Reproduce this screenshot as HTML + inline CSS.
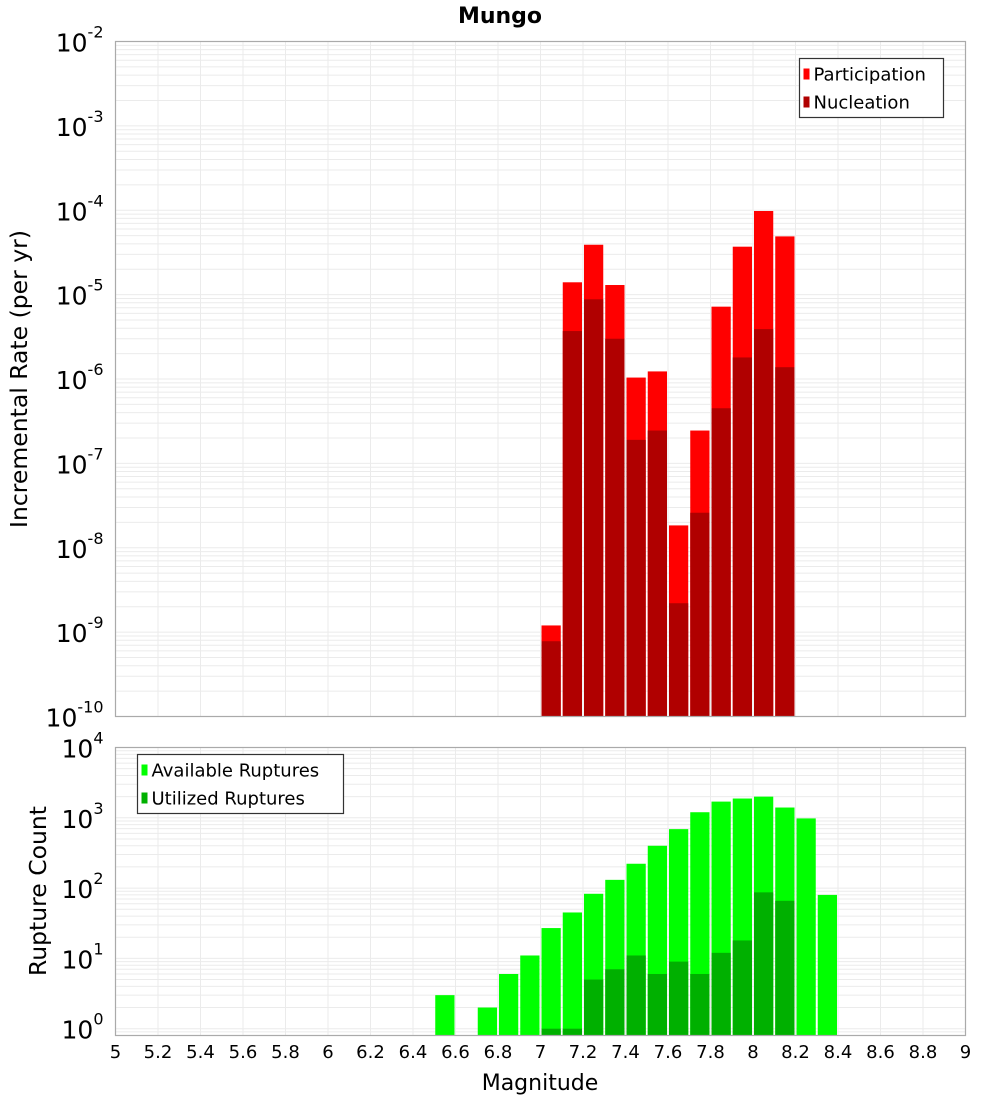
<!DOCTYPE html>
<html><head><meta charset="utf-8"><style>
body{margin:0;background:#fff}
svg{display:block;font-family:"DejaVu Sans","Liberation Sans",sans-serif}
</style></head><body>
<svg id="c" width="1000" height="1100"></svg>
<script>
const binsTop=[7.05,7.15,7.25,7.35,7.45,7.55,7.65,7.75,7.85,7.95,8.05,8.15];
const participation=[1.2e-9,1.4e-5,3.9e-5,1.3e-5,1.04e-6,1.23e-6,1.84e-8,2.45e-7,7.2e-6,3.7e-5,9.8e-5,4.9e-5];
const nucleation=[7.8e-10,3.7e-6,8.8e-6,3.0e-6,1.9e-7,2.45e-7,2.2e-9,2.6e-8,4.5e-7,1.8e-6,3.9e-6,1.38e-6];
const binsBot=[6.55,6.75,6.85,6.95,7.05,7.15,7.25,7.35,7.45,7.55,7.65,7.75,7.85,7.95,8.05,8.15,8.25,8.35];
const available=[3,2,6,11,27,45,83,131,222,400,690,1200,1700,1880,2000,1400,980,80];
const utilized=[0,0,0,0,1,1,5,7,11,6,9,6,12,18,87,66,0,0];
const xTicks=[5,5.2,5.4,5.6,5.8,6,6.2,6.4,6.6,6.8,7,7.2,7.4,7.6,7.8,8,8.2,8.4,8.6,8.8,9];
const topExps=[-2,-3,-4,-5,-6,-7,-8,-9,-10];
const botExps=[4,3,2,1,0];

const NS='http://www.w3.org/2000/svg';
const svg=document.getElementById('c');
function el(t,a,p){const e=document.createElementNS(NS,t);for(const k in a)e.setAttribute(k,a[k]);(p||svg).appendChild(e);return e;}
const L=115.5,R=965.5;
const x=v=>L+(v-5)/4*(R-L);
const T1=41.5,B1=716.5,T2=747.5,B2=1035.5;
const y1=v=>T1+(-2-Math.log10(v))/8*(B1-T1);
const lmin=Math.log10(0.8);
const y2=v=>T2+(4-Math.log10(v))/(4-lmin)*(B2-T2);

function grid(top,bot,yf,dMin,dMax,name){
  const g=el('g',{});
  
  
  for(let d=dMin;d<dMax;d++)for(let m=1;m<10;m++){const v=m*Math.pow(10,d);const yy=yf(v);if(yy<top||yy>bot)continue;el('line',{x1:L,x2:R,y1:yy,y2:yy,stroke:'#ebebeb','stroke-width':1},g);}
  xTicks.forEach(t=>{el('line',{x1:x(t),x2:x(t),y1:top,y2:bot,stroke:'#ebebeb','stroke-width':1},g);});
}
grid(T1,B1,y1,-10,-1,'top-grid');
grid(T2,B2,y2,-1,4,'bottom-grid');

const bw=x(5.1)-x(5)-2;
function bars(bins,vals,yf,bot,color,name){
  bins.forEach((b,i)=>{if(!vals[i])return;const yy=yf(vals[i]);
    const r=el('rect',{x:x(b)-bw/2,y:yy,width:bw,height:bot-yy,fill:color});
    
    });
}
bars(binsTop,participation,y1,B1,'#ff0000','participation-bar');
bars(binsTop,nucleation,y1,B1,'#b00000','nucleation-bar');
bars(binsBot,available,y2,B2,'#00ff00','available-bar');
bars(binsBot,utilized,y2,B2,'#00b000','utilized-bar');

el('rect',{x:L,y:T1,width:R-L,height:B1-T1,fill:'none',stroke:'#aaa','stroke-width':1.2});
el('rect',{x:L,y:T2,width:R-L,height:B2-T2,fill:'none',stroke:'#aaa','stroke-width':1.2});

function ylab(exps,yf,name){
  exps.forEach(e=>{const yy=yf(Math.pow(10,e));
    const t=el('text',{x:L-12,y:yy+10,'text-anchor':'end','font-size':25});
    
    
    const a=el('tspan',{},t);a.textContent='10';
    const b=el('tspan',{dy:-14,'font-size':16},t);b.textContent=String(e);
  });
}
ylab(topExps,y1,'top-y-tick');
ylab(botExps,y2,'bottom-y-tick');
xTicks.forEach(tk=>{const t=el('text',{x:x(tk),y:1058,'text-anchor':'middle','font-size':18});t.textContent=String(tk);
  
  });

let t=el('text',{x:500,y:23,'text-anchor':'middle','font-size':22,'font-weight':'bold'});t.textContent='Mungo';

t=el('text',{x:540,y:1090,'text-anchor':'middle','font-size':22});t.textContent='Magnitude';

t=el('text',{x:0,y:0,'text-anchor':'middle','font-size':23.5,transform:'translate(27,379) rotate(-90)'});t.textContent='Incremental Rate (per yr)';

t=el('text',{x:0,y:0,'text-anchor':'middle','font-size':23.5,transform:'translate(46,891) rotate(-90)'});t.textContent='Rupture Count';


function legend(x0,y0,w,items,name){
  const g=el('g',{});
  
  
  el('rect',{x:x0,y:y0,width:w,height:59,fill:'#fff',stroke:'#333','stroke-width':1.2},g);
  items.forEach((it,i)=>{const yy=y0+15+i*28;
    el('rect',{x:x0+4,y:yy-5,width:6,height:11,fill:it[1]},g);
    const tt=el('text',{x:x0+14,y:yy+7,'font-size':18},g);tt.textContent=it[0];});
}
legend(799.5,58.5,144,[['Participation','#ff0000'],['Nucleation','#b00000']],'top-legend');
legend(137.5,754.5,206,[['Available Ruptures','#00ff00'],['Utilized Ruptures','#00b000']],'bottom-legend');
</script>
</body></html>
